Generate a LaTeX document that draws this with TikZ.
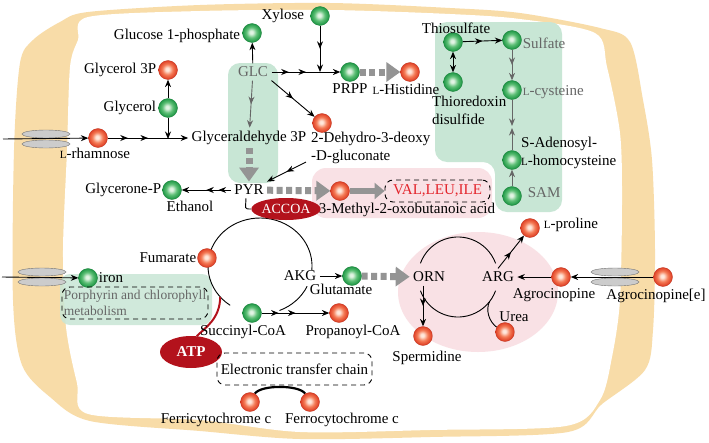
\documentclass[tikz,border=0pt]{standalone}
\usepackage{fontspec}
\setmainfont{Liberation Serif}
\usetikzlibrary{positioning,shapes.geometric,arrows.meta,decorations.markings}

\definecolor{wallc}{HTML}{F8DCA8}
\definecolor{mintc}{HTML}{C8E6D5}
\definecolor{pinkc}{HTML}{F9E1E5}
\definecolor{pillc}{HTML}{B3121C}
\definecolor{aared}{HTML}{E3242B}
\definecolor{rhi}{HTML}{FFE8DC}
\definecolor{rmid}{HTML}{F47A55}
\definecolor{rdk}{HTML}{DD3B22}
\definecolor{ghi}{HTML}{E2F4E4}
\definecolor{gmid}{HTML}{5CBF75}
\definecolor{gdk}{HTML}{1B9442}

\pgfdeclareradialshading{redball}{\pgfpoint{-2bp}{2bp}}{%
  color(0bp)=(rhi); color(4bp)=(rhi); color(14bp)=(rmid); color(25bp)=(rdk); color(50bp)=(rdk)}
\pgfdeclareradialshading{greenball}{\pgfpoint{-2bp}{2bp}}{%
  color(0bp)=(ghi); color(4bp)=(ghi); color(14bp)=(gmid); color(25bp)=(gdk); color(50bp)=(gdk)}

\pgfdeclarelayer{walls}
\pgfdeclarelayer{back}
\pgfsetlayers{walls,back,main}

\newcommand{\Lsm}{{\fontsize{11}{11}\selectfont L}}

\begin{document}
\begin{tikzpicture}[x=1pt,y=-1pt,
  font=\fontsize{15}{18}\selectfont,
  >={Stealth[length=7.5pt,width=6pt]},
  rball/.style={circle,minimum size=19pt,inner sep=0pt,shading=redball,draw=rdk!85!black,line width=0.3pt},
  gball/.style={circle,minimum size=19pt,inner sep=0pt,shading=greenball,draw=gdk!85!black,line width=0.3pt},
  lbl/.style={inner sep=1pt},
  dimtext/.style={text=black!60},
  flow/.style={->,line width=0.9pt},
  midhead/.style={postaction={decorate,decoration={markings,mark=at position #1 with {\arrow{Stealth[length=7.5pt,width=6pt]}}}}},
  flow2/.style={flow,midhead=0.5},
  flow3/.style={flow,midhead=0.25,midhead=0.5},
  gflow/.style={draw=black!42,line width=7pt,dash pattern=on 6pt off 3.5pt,-{Triangle[length=14pt,width=19pt]}},
  dbox/.style={draw,line width=0.9pt,dash pattern=on 5pt off 4pt,rounded corners=8pt,inner sep=1pt},
  carrier/.style={ellipse,draw=black!55,fill=black!20,minimum width=48pt,minimum height=8pt,inner sep=0pt},
  pill/.style={ellipse,fill=pillc,text=white,inner sep=0pt},
  loopline/.style={line width=0.9pt}]

  \useasboundingbox (0,0) rectangle (709,442);

  % Regions
  \begin{pgfonlayer}{walls}
    \fill[white] (0,0) rectangle (709,442);
    \fill[wallc] plot[smooth cycle,tension=0.5] coordinates {(88,12) (200,5) (330,3) (450,8) (520,13) (600,28) (630,42) (643,100) (652,160) (655,250) (653,330) (645,370) (602,404) (568,432) (430,437) (300,439) (200,431) (90,421) (50,397) (22,365) (13,300) (14,150) (20,63) (33,40) (60,22)};
    \fill[white] plot[smooth cycle,tension=0.5] coordinates {(88,17) (200,11) (330,10) (450,14) (520,19) (595,33) (607,67) (620,133) (622,200) (620,300) (612,357) (600,400) (566,426) (430,430) (300,432) (200,420) (88,414) (77,383) (66,327) (63,250) (67,150) (70,67) (78,40)};
    \fill[pinkc,rounded corners=14pt] (312,168) rectangle (492,218);
    \fill[pinkc] (478,292) ellipse [x radius=80pt,y radius=60pt];
    \fill[mintc,rounded corners=12pt] (228,63) rectangle (278,183);
    \fill[mintc,rounded corners=12pt] (435,22) -- (562,22) -- (562,212) -- (495,212) -- (495,162) -- (435,162) -- cycle;
    \fill[mintc,fill opacity=0.85,rounded corners=10pt] (60,274) rectangle (212,325);
  \end{pgfonlayer}

  % Nodes
  \node[carrier] (tp_r1) at (46,134) {};
  \node[carrier] (tp_r2) at (46,144) {};
  \node[carrier] (tp_i1) at (42,272) {};
  \node[carrier] (tp_i2) at (42,282) {};
  \node[carrier] (tp_a1) at (615,272) {};
  \node[carrier] (tp_a2) at (615,282) {};
  \coordinate (rham_in) at (3,139);
  \coordinate (iron_in) at (2,277);

  \node[gball] (xyl) at (320,16) {};
  \node[lbl, left=5pt of xyl] {Xylose};
  \node[gball] (g1p) at (252,33) {};
  \node[lbl, left=1pt of g1p, yshift=-3pt] {Glucose 1-phosphate};
  \node[rball] (gol_3p) at (168,70) {};
  \node[lbl, left=1pt of gol_3p] {Glycerol 3P};
  \node[gball] (gol) at (168,108) {};
  \node[lbl, left=1pt of gol] {Glycerol};
  \node[rball] (rham) at (98,138) {};
  \node[lbl, below=-1pt of rham, xshift=-3pt] {\Lsm-rhamnose};

  \node[dimtext] (glc) at (253,72) {GLC};
  \node (g3p) at (249,138) {Glyceraldehyde 3P};
  \node (pyr) at (249,190) {PYR};
  \coordinate (j_xyl) at (320,72);
  \coordinate (j_gol) at (168,139);

  \node[gball] (prpp) at (350,72) {};
  \node[lbl, below=1pt of prpp] {PRPP};
  \node[rball] (his) at (410,72) {};
  \node[lbl, below=1pt of his, xshift=-4pt] {\Lsm-Histidine};

  \node[rball] (dhdg) at (322,123) {};
  \node[lbl, align=left, anchor=north west] (dhdg_l) at (310,131) {2-Dehydro-3-deoxy\\-D-gluconate};

  \node[gball] (gnp) at (172,190) {};
  \node[lbl, left=0pt of gnp] {Glycerone-P};
  \node[lbl, below=0pt of gnp, xshift=18pt] {Ethanol};

  \node[rball] (mob) at (340,191) {};
  \node[lbl] at (407,210) {3-Methyl-2-oxobutanoic acid};
  \node[dbox, text=aared, minimum width=105pt, minimum height=22pt] (bcaa) at (437.5,191) {VAL,LEU,ILE};

  \node[gball] (thio) at (453,42) {};
  \node[lbl, above=-2pt of thio, xshift=3pt] {Thiosulfate};
  \node[gball] (sulf) at (512,40) {};
  \node[lbl, dimtext, right=0pt of sulf, yshift=-3pt] {Sulfate};
  \node[gball] (trx) at (453,82) {};
  \node[lbl, align=left, anchor=north west] at (431,95) {Thioredoxin\\disulfide};
  \node[gball] (cys) at (512,90) {};
  \node[lbl, dimtext, right=0pt of cys, yshift=-2pt] {\Lsm-cysteine};
  \node[gball] (sah) at (512,160) {};
  \node[lbl, align=left, anchor=north west] at (520,136) {S-Adenosyl-\\\Lsm-homocysteine};
  \node[gball] (sam) at (512,196) {};
  \node[lbl, dimtext, right=5pt of sam, yshift=3pt] {SAM};
  \coordinate (j_cys) at (512,126);
  \coordinate (j_sah) at (512,128);

  \coordinate (tca) at (260,266);
  \node[pill, minimum width=57pt, minimum height=22pt, font=\fontsize{14}{14}\selectfont] (accoa) at (286,209) {ACCOA};
  \node[pill, minimum width=62pt, minimum height=32pt, font=\fontsize{15}{15}\selectfont\bfseries] (atp) at (191,352) {ATP};
  \node[rball] (fum) at (207,258) {};
  \node[lbl, left=0pt of fum] {Fumarate};
  \node[gball] (succ) at (252,313) {};
  \node[lbl, below=1pt of succ, xshift=-9pt] {Succinyl-CoA};
  \node[rball] (prop) at (339,313) {};
  \node[lbl, below=1pt of prop, xshift=14pt] {Propanoyl-CoA};
  \node (akg) at (300,276) {AKG};
  \node[gball] (glu) at (352,276) {};
  \node[lbl, below=-3pt of glu, xshift=-11pt] {Glutamate};

  \node[gball] (iron) at (88,278) {};
  \node[lbl, right=0pt of iron] {iron};
  \node[dbox, dimtext, align=left, minimum width=146pt, minimum height=32pt, font=\fontsize{13.5}{16}\selectfont] (porph) at (135,303) {Porphyrin and chlorophyll\\metabolism};

  \coordinate (urc) at (458,277);
  \node (orn) at (429,277) {ORN};
  \node (arg) at (498,277) {ARG};
  \node[rball] (sperm) at (423,336) {};
  \node[lbl, below=4pt of sperm, xshift=4pt] {Spermidine};
  \node[rball] (urea) at (505,332) {};
  \node[lbl, above=0pt of urea, xshift=9pt] {Urea};
  \node[rball] (pro) at (530,228) {};
  \node[lbl, right=3pt of pro, yshift=3pt] {\Lsm-proline};
  \node[rball] (agro) at (561,277) {};
  \node[lbl, below=1pt of agro, xshift=-7pt] {Agrocinopine};
  \node[rball] (agro_e) at (663,277) {};
  \node[lbl, below=1pt of agro_e, xshift=-7pt] {Agrocinopine[e]};

  \node[dbox, minimum width=155pt, minimum height=32pt] (etc) at (294.5,369) {Electronic transfer chain};
  \node[rball] (ferri) at (250,402) {};
  \node[lbl, below=0pt of ferri, xshift=-34pt] {Ferricytochrome c};
  \node[rball] (ferro) at (310,402) {};
  \node[lbl, below=0pt of ferro, xshift=32pt] {Ferrocytochrome c};

  % Edges
  \begin{pgfonlayer}{back}
  \draw[flow] (rham_in) -- (rham);
  \draw[flow] (iron_in) -- (iron);
  \draw[flow] (agro_e) -- (agro);
  \draw[flow3] (rham) -- (g3p);
  \draw[flow] (gol) -- (j_gol);
  \draw[flow] (gol) -- (gol_3p);
  \draw[flow] (glc) -- (g1p);
  \draw[flow3] (glc) -- (prpp);
  \draw[flow2] (xyl) -- (j_xyl);
  \draw[flow2, draw=black!60] (glc) -- (g3p);
  \draw[flow2] (glc.south east) -- (dhdg);
  \draw[flow2] ([xshift=-4pt,yshift=3pt]dhdg_l.south west) -- (pyr.north east);
  \draw[flow3] (pyr) -- (gnp);
  \draw[gflow] (g3p) -- (pyr);
  \draw[gflow] (prpp) -- (his);
  \draw[gflow] (pyr) -- (mob);
  \draw[gflow] (glu) -- (orn);
  \draw[draw=black!42, line width=6pt, -{Triangle[length=10pt,width=16pt]}] (mob) -- (bcaa);

  \draw[flow2] (thio) -- (sulf);
  \draw[flow, <->] (thio) -- (trx);
  \draw[flow2, draw=black!60] (sulf) -- (cys);
  \draw[flow, draw=black!60] (cys) -- (j_cys);
  \draw[flow, draw=black!60] (sah) -- (j_sah);
  \draw[flow, draw=black!60] (sam) -- (sah);

  \draw[loopline] (pyr.250) .. controls +(0,10) and +(-8,0) .. (accoa.west);
  \draw[loopline] ([shift={(235:52pt and 48pt)}]tca) arc[start angle=235, end angle=-5, x radius=52pt, y radius=48pt];
  \draw[loopline] ([shift={(-25:52pt and 48pt)}]tca) arc[start angle=-25, end angle=-68, x radius=52pt, y radius=48pt];
  \draw[pillc, line width=2pt] ([shift={(220:52pt and 48pt)}]tca) .. controls +(0,22) and +(8,-8) .. (atp.70);
  \draw[flow3] (succ) -- (prop);
  \draw[flow] (akg) -- (glu);

  \draw[loopline] ([shift={(160:40pt)}]urc) arc[start angle=160, end angle=20, radius=40pt];
  \draw[loopline] ([shift={(200:40pt)}]urc) arc[start angle=200, end angle=340, radius=40pt];
  \draw[loopline] (urea.150) .. controls +(-8,-6) and +(-4,8) .. ([shift={(-38:40pt)}]urc);
  \draw[flow2] (orn.south -| sperm) -- (sperm);
  \draw[flow2] (arg.north) -- (pro);
  \draw[flow] (agro) -- (arg);

  \draw[line width=2.2pt] (ferri.60) .. controls +(6,-9) and +(-6,-9) .. (ferro.120);
  \end{pgfonlayer}
\end{tikzpicture}
\end{document}
